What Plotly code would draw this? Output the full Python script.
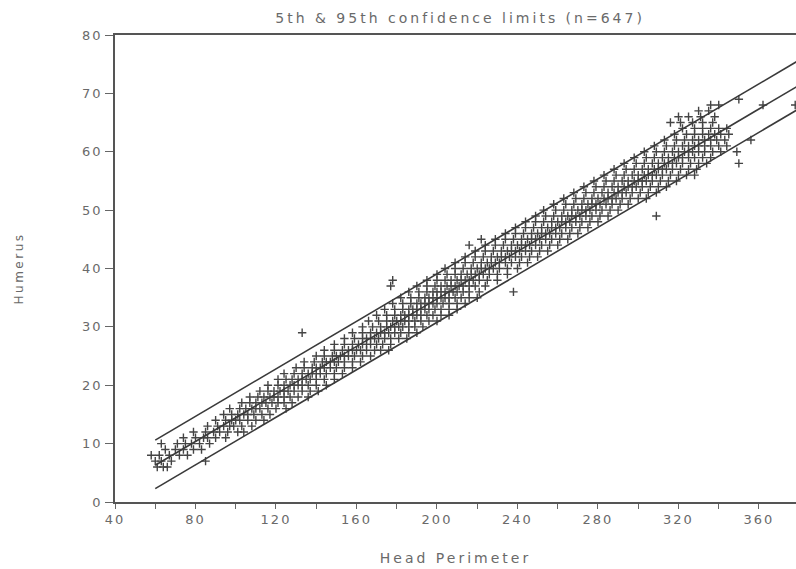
import plotly.graph_objects as go

# Humerus length (mm) against fetal head perimeter (mm), n = 647.
# Each pair of lines below holds the head perimeters recorded for one humerus value.
head_perimeter = [
    61, 64, 66,
    60, 63, 68, 85,
    58, 62, 67, 72, 76,
    65, 70, 74, 79, 83,
    63, 71, 75, 78, 82, 87,
    74, 80, 84, 86, 90, 95,
    79, 85, 89, 92, 96, 101, 104,
    86, 91, 94, 97, 99, 103, 108,
    90, 95, 98, 100, 102, 106, 110, 114,
    94, 98, 101, 104, 106, 109, 113, 117,
    97, 102, 105, 108, 110, 112, 116, 120, 125,
    103, 107, 110, 113, 115, 118, 121, 124, 128,
    107, 111, 114, 117, 119, 121, 124, 127, 131, 136,
    112, 116, 119, 122, 124, 126, 129, 133, 137, 141,
    116, 121, 124, 127, 129, 131, 133, 136, 140, 145,
    121, 125, 128, 131, 133, 135, 137, 140, 144, 149,
    124, 129, 133, 136, 138, 140, 142, 145, 149, 153,
    130, 134, 138, 140, 142, 144, 147, 150, 154, 158,
    134, 139, 143, 145, 147, 149, 151, 154, 158, 162,
    140, 144, 148, 150, 152, 154, 156, 159, 163, 167,
    144, 149, 153, 156, 158, 160, 162, 165, 169, 172, 176,
    149, 154, 158, 161, 163, 165, 167, 170, 173, 177,
    154, 159, 163, 165, 167, 169, 171, 174, 177, 181, 185,
    133, 158, 163, 167, 170, 172, 174, 176, 179, 182, 186, 190,
    163, 168, 172, 175, 177, 179, 181, 183, 186, 189, 193,
    166, 171, 175, 178, 180, 182, 184, 186, 189, 192, 196, 200,
    170, 175, 179, 182, 184, 186, 188, 190, 192, 195, 198, 202, 206,
    174, 179, 183, 186, 188, 190, 192, 194, 196, 199, 202, 206, 210,
    178, 183, 187, 190, 192, 194, 196, 198, 200, 203, 206, 210, 214,
    182, 187, 191, 194, 196, 198, 200, 202, 204, 206, 209, 212, 216, 220,
    186, 191, 195, 198, 200, 202, 204, 206, 208, 210, 213, 216, 221, 238,
    177, 190, 195, 199, 202, 205, 207, 209, 211, 213, 216, 219, 224,
    178, 195, 200, 204, 207, 210, 212, 214, 216, 218, 221, 225, 230,
    200, 205, 209, 212, 215, 217, 219, 221, 223, 226, 230, 235,
    204, 209, 213, 217, 220, 222, 224, 226, 228, 231, 235, 240,
    209, 214, 218, 222, 225, 227, 229, 231, 234, 237, 241, 245,
    214, 219, 223, 227, 230, 232, 234, 236, 239, 242, 246, 250,
    219, 224, 228, 232, 235, 237, 239, 241, 244, 247, 251, 255,
    216, 224, 229, 233, 237, 240, 242, 244, 246, 249, 252, 256, 260,
    222, 229, 234, 238, 242, 245, 247, 249, 251, 254, 257, 261, 265,
    234, 239, 243, 247, 250, 252, 254, 256, 259, 262, 266, 270,
    239, 244, 248, 252, 255, 257, 259, 261, 264, 267, 271, 275,
    244, 249, 253, 257, 260, 262, 264, 266, 269, 272, 276, 280,
    249, 254, 258, 262, 265, 267, 269, 271, 274, 277, 281, 285, 309,
    253, 259, 263, 267, 270, 272, 274, 276, 279, 282, 286, 290,
    258, 264, 268, 272, 275, 277, 279, 281, 284, 287, 291, 295,
    263, 269, 273, 277, 280, 283, 285, 287, 289, 292, 296, 300, 304,
    268, 274, 278, 282, 285, 288, 290, 292, 294, 297, 301, 305, 309,
    273, 279, 283, 287, 290, 293, 295, 297, 299, 302, 306, 310, 314,
    278, 284, 288, 292, 295, 298, 300, 302, 304, 307, 311, 315, 319,
    283, 289, 293, 297, 300, 303, 305, 307, 309, 312, 316, 320, 324, 328,
    288, 294, 298, 302, 305, 308, 310, 312, 314, 317, 321, 325, 329,
    293, 299, 303, 307, 310, 313, 315, 317, 319, 322, 326, 330, 334, 350,
    298, 304, 308, 312, 315, 318, 320, 322, 325, 328, 332, 336,
    303, 309, 313, 317, 320, 323, 325, 327, 330, 333, 337, 341, 349,
    308, 314, 318, 322, 325, 328, 330, 333, 336, 340, 344,
    313, 319, 323, 327, 330, 333, 336, 339, 343, 356,
    318, 324, 328, 332, 335, 338, 341, 345,
    322, 328, 332, 336, 340, 344,
    316, 321, 327, 332, 337,
    320, 325, 331, 338,
    330, 335,
    336, 340, 362, 378,
    350,
]
humerus = [
    6, 6, 6,
    7, 7, 7, 7,
    8, 8, 8, 8, 8,
    9, 9, 9, 9, 9,
    10, 10, 10, 10, 10, 10,
    11, 11, 11, 11, 11, 11,
    12, 12, 12, 12, 12, 12, 12,
    13, 13, 13, 13, 13, 13, 13,
    14, 14, 14, 14, 14, 14, 14, 14,
    15, 15, 15, 15, 15, 15, 15, 15,
    16, 16, 16, 16, 16, 16, 16, 16, 16,
    17, 17, 17, 17, 17, 17, 17, 17, 17,
    18, 18, 18, 18, 18, 18, 18, 18, 18, 18,
    19, 19, 19, 19, 19, 19, 19, 19, 19, 19,
    20, 20, 20, 20, 20, 20, 20, 20, 20, 20,
    21, 21, 21, 21, 21, 21, 21, 21, 21, 21,
    22, 22, 22, 22, 22, 22, 22, 22, 22, 22,
    23, 23, 23, 23, 23, 23, 23, 23, 23, 23,
    24, 24, 24, 24, 24, 24, 24, 24, 24, 24,
    25, 25, 25, 25, 25, 25, 25, 25, 25, 25,
    26, 26, 26, 26, 26, 26, 26, 26, 26, 26, 26,
    27, 27, 27, 27, 27, 27, 27, 27, 27, 27,
    28, 28, 28, 28, 28, 28, 28, 28, 28, 28, 28,
    29, 29, 29, 29, 29, 29, 29, 29, 29, 29, 29, 29,
    30, 30, 30, 30, 30, 30, 30, 30, 30, 30, 30,
    31, 31, 31, 31, 31, 31, 31, 31, 31, 31, 31, 31,
    32, 32, 32, 32, 32, 32, 32, 32, 32, 32, 32, 32, 32,
    33, 33, 33, 33, 33, 33, 33, 33, 33, 33, 33, 33, 33,
    34, 34, 34, 34, 34, 34, 34, 34, 34, 34, 34, 34, 34,
    35, 35, 35, 35, 35, 35, 35, 35, 35, 35, 35, 35, 35, 35,
    36, 36, 36, 36, 36, 36, 36, 36, 36, 36, 36, 36, 36, 36,
    37, 37, 37, 37, 37, 37, 37, 37, 37, 37, 37, 37, 37,
    38, 38, 38, 38, 38, 38, 38, 38, 38, 38, 38, 38, 38,
    39, 39, 39, 39, 39, 39, 39, 39, 39, 39, 39, 39,
    40, 40, 40, 40, 40, 40, 40, 40, 40, 40, 40, 40,
    41, 41, 41, 41, 41, 41, 41, 41, 41, 41, 41, 41,
    42, 42, 42, 42, 42, 42, 42, 42, 42, 42, 42, 42,
    43, 43, 43, 43, 43, 43, 43, 43, 43, 43, 43, 43,
    44, 44, 44, 44, 44, 44, 44, 44, 44, 44, 44, 44, 44,
    45, 45, 45, 45, 45, 45, 45, 45, 45, 45, 45, 45, 45,
    46, 46, 46, 46, 46, 46, 46, 46, 46, 46, 46, 46,
    47, 47, 47, 47, 47, 47, 47, 47, 47, 47, 47, 47,
    48, 48, 48, 48, 48, 48, 48, 48, 48, 48, 48, 48,
    49, 49, 49, 49, 49, 49, 49, 49, 49, 49, 49, 49, 49,
    50, 50, 50, 50, 50, 50, 50, 50, 50, 50, 50, 50,
    51, 51, 51, 51, 51, 51, 51, 51, 51, 51, 51, 51,
    52, 52, 52, 52, 52, 52, 52, 52, 52, 52, 52, 52, 52,
    53, 53, 53, 53, 53, 53, 53, 53, 53, 53, 53, 53, 53,
    54, 54, 54, 54, 54, 54, 54, 54, 54, 54, 54, 54, 54,
    55, 55, 55, 55, 55, 55, 55, 55, 55, 55, 55, 55, 55,
    56, 56, 56, 56, 56, 56, 56, 56, 56, 56, 56, 56, 56, 56,
    57, 57, 57, 57, 57, 57, 57, 57, 57, 57, 57, 57, 57,
    58, 58, 58, 58, 58, 58, 58, 58, 58, 58, 58, 58, 58, 58,
    59, 59, 59, 59, 59, 59, 59, 59, 59, 59, 59, 59,
    60, 60, 60, 60, 60, 60, 60, 60, 60, 60, 60, 60, 60,
    61, 61, 61, 61, 61, 61, 61, 61, 61, 61, 61,
    62, 62, 62, 62, 62, 62, 62, 62, 62, 62,
    63, 63, 63, 63, 63, 63, 63, 63,
    64, 64, 64, 64, 64, 64,
    65, 65, 65, 65, 65,
    66, 66, 66, 66,
    67, 67,
    68, 68, 68, 68,
    69,
]

# Regression line and its 5th / 95th percentile limits
line_x = [60, 380]
fit_mid = [6.3, 71.4]
fit_upper = [10.6, 75.7]
fit_lower = [2.3, 67.4]

x_ticks = [40, 80, 120, 160, 200, 240, 280, 320, 360]
y_ticks = [0, 10, 20, 30, 40, 50, 60, 70, 80]

ink = "#3a3a3a"
label_grey = "#6a6a6a"
font_family = "DejaVu Sans, Verdana, sans-serif"

fig = go.Figure()

fig.add_trace(go.Scatter(
    x=head_perimeter, y=humerus, mode="markers",
    marker=dict(symbol="cross-thin", size=6,
                line=dict(width=1.4, color="#444444")),
    showlegend=False, hoverinfo="x+y",
))

for ys in (fit_upper, fit_mid, fit_lower):
    fig.add_trace(go.Scatter(
        x=line_x, y=ys, mode="lines",
        line=dict(color=ink, width=1.6),
        showlegend=False, hoverinfo="skip",
    ))

fig.update_layout(
    width=796, height=569,
    margin=dict(l=115, r=0, t=35, b=67),
    paper_bgcolor="white", plot_bgcolor="white",
    font=dict(family=font_family, color=label_grey, size=12),
    title=dict(
        text="5th & 95th confidence limits (n=647)",
        x=0.578, xanchor="center", y=0.968, yanchor="middle",
        font=dict(size=14, color=label_grey),
    ),
)

fig.update_xaxes(
    range=[40, 378.4],
    tickmode="array", tickvals=x_ticks, ticktext=[str(v) for v in x_ticks],
    ticks="outside", ticklen=5, tickwidth=1.2, tickcolor="#666",
    minor=dict(dtick=20, tick0=40, ticks="outside", ticklen=5,
               tickwidth=1.2, tickcolor="#666", showgrid=False),
    showline=True, linecolor="#555", linewidth=1.5, mirror=True,
    showgrid=False, zeroline=False,
    tickfont=dict(size=13, color=label_grey),
    title=dict(text="Head Perimeter", standoff=27,
               font=dict(size=14, color=label_grey)),
)

fig.update_yaxes(
    range=[0, 80],
    tickmode="array", tickvals=y_ticks, ticktext=[str(v) for v in y_ticks],
    ticks="outside", ticklen=8, tickwidth=1.2, tickcolor="#666",
    showline=True, linecolor="#555", linewidth=1.5, mirror=False,
    showgrid=False, zeroline=False,
    tickfont=dict(size=13, color=label_grey),
    title=dict(text="Humerus", standoff=60,
               font=dict(size=12, color=label_grey)),
)

# Widen the lettering of the plotter-style labels
spacing_js = """
var gd = document.querySelector('.plotly-graph-div');
function spread() {
  gd.querySelectorAll('.xtick text, .ytick text').forEach(function (t) {
    t.style.letterSpacing = '2px';
  });
  gd.querySelectorAll('.gtitle, .xtitle').forEach(function (t) {
    t.style.letterSpacing = '3px';
  });
  gd.querySelectorAll('.ytitle').forEach(function (t) {
    t.style.letterSpacing = '2.5px';
  });
}
spread();
gd.on('plotly_afterplot', spread);
"""

fig.write_html("out.html", post_script=spacing_js)
